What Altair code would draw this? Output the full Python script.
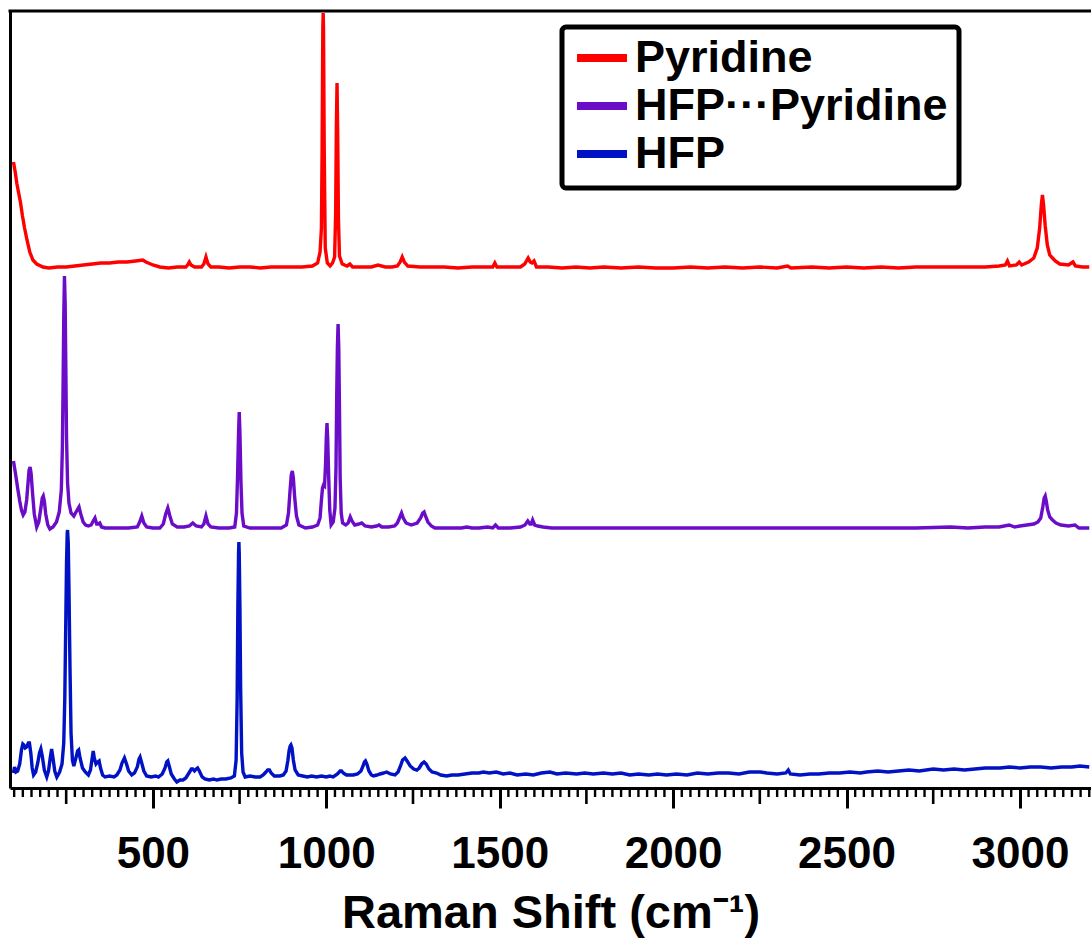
import altair as alt
import pandas as pd

# ---- data ----
SERIES = ["Pyridine", "HFP···Pyridine", "HFP"]
COLORS = ["#ff0000", "#6a0cc8", "#0012c4"]

X_PYR = [98, 103, 108, 113, 118, 124, 130, 137, 145, 154, 165, 183, 200, 225, 250, 275, 300, 325, 350, 375,
         400, 425, 450, 471, 480, 500, 520, 545, 570, 595, 600, 605, 610, 620, 640, 647, 653, 659, 667, 690,
         720, 750, 780, 810, 840, 870, 900, 930, 960, 975, 982, 986, 988, 990, 991, 992, 994, 997, 1003, 1011,
         1018, 1024, 1027, 1029, 1031, 1033, 1035, 1038, 1046, 1060, 1068, 1076, 1100, 1130, 1149, 1170, 1190,
         1205, 1213, 1219, 1225, 1235, 1270, 1300, 1340, 1380, 1420, 1460, 1480, 1486, 1492, 1520, 1560, 1572,
         1582, 1588, 1593, 1599, 1606, 1640, 1680, 1720, 1760, 1800, 1850, 1900, 1950, 2000, 2050, 2100, 2150,
         2200, 2250, 2300, 2330, 2340, 2400, 2450, 2500, 2550, 2600, 2650, 2700, 2750, 2800, 2850, 2900, 2940,
         2958, 2964, 2970, 2990, 2998, 3005, 3025, 3040, 3050, 3057, 3062, 3065, 3068, 3073, 3079, 3086, 3094,
         3102, 3115, 3140, 3153, 3160, 3180, 3200]
Y_PYR = [626, 616, 604, 595, 586, 572, 560, 548, 536, 528, 524, 521, 520, 521, 521, 522, 523, 524, 525, 525,
         526, 526, 527, 528, 526, 523, 521, 520, 521, 521, 523, 526, 523, 521, 521, 524, 531, 524, 521, 521,
         520, 521, 521, 520, 521, 521, 521, 521, 522, 525, 536, 560, 640, 760, 775, 760, 640, 540, 525, 522,
         525, 531, 575, 660, 705, 650, 570, 532, 524, 522, 524, 521, 521, 521, 523, 521, 521,
         522, 526, 531, 526, 522, 521, 521, 521, 520, 521, 521, 521, 525, 521, 521, 521, 524,
         530, 526, 525, 527, 521, 521, 520, 521, 520, 521, 520, 521, 520, 520, 521, 520, 521,
         520, 521, 520, 522, 520, 521, 520, 521, 520, 521, 520, 521, 521, 521, 521, 521, 522,
         523, 527, 522, 523, 526, 523, 526, 530, 540, 560, 584, 593, 584, 562, 543, 533, 530,
         527, 524, 523, 526, 522, 521, 521]

X_MIX = [98, 104, 110, 116, 121, 126, 131, 136, 140, 143, 146, 149, 153, 158, 165, 171, 177, 181, 184, 187,
         191, 197, 203, 212, 222, 230, 236, 239, 241, 243, 245, 247, 249, 251, 254, 258, 264, 272, 280, 287,
         292, 299, 306, 314, 322, 328, 333, 338, 343, 347, 352, 362, 380, 400, 430, 455, 462, 468, 474, 482,
         500, 520, 530, 537, 543, 549, 556, 570, 590, 605, 615, 625, 640, 647, 653, 659, 667, 690, 720, 736,
         741, 744, 747, 749, 751, 754, 757, 762, 780, 810, 840, 870, 885, 891, 895, 899, 902, 905, 909, 914,
         921, 940, 960, 975, 982, 986, 989, 992, 995, 998, 1000, 1002, 1004, 1007, 1010, 1014, 1020, 1025,
         1028, 1030, 1032, 1034, 1036, 1038, 1040, 1043, 1047, 1056, 1063, 1069, 1074, 1082, 1094, 1102, 1112,
         1130, 1145, 1152, 1160, 1180, 1197, 1205, 1211, 1217, 1222, 1230, 1245, 1262, 1272, 1278, 1282, 1286,
         1293, 1303, 1313, 1350, 1390, 1405, 1420, 1440, 1465, 1480, 1488, 1496, 1530, 1560, 1573, 1581, 1587,
         1591, 1595, 1601, 1610, 1625, 1650, 1700, 1800, 1900, 2000, 2100, 2200, 2300, 2400, 2500, 2600, 2700,
         2800, 2850, 2900, 2940, 2969, 2985, 3000, 3020, 3040, 3052, 3060, 3066, 3070, 3073, 3076, 3080, 3086,
         3094, 3104, 3118, 3140, 3159, 3170, 3200]
Y_MIX = [327, 314, 300, 287, 278, 273, 276, 288, 305, 318, 321, 314, 295, 274, 261, 266, 280, 290, 292, 287,
         274, 263, 259, 261, 266, 276, 298, 340, 400, 470, 512, 485, 420, 350, 305, 285, 275, 272, 277, 281,
         274, 266, 263, 262, 263, 267, 270, 264, 264, 265, 261, 260, 260, 260, 260, 261, 266, 272, 265, 261,
         260, 260, 264, 274, 280, 272, 264, 261, 261, 262, 265, 262, 261, 264, 272, 264, 261, 260, 260, 261,
         275, 310, 355, 376, 355, 305, 275, 262, 260, 260, 260, 260, 263, 275, 295, 313, 317, 310, 290, 272,
         263, 260, 261, 263, 270, 288, 300, 303, 302, 325, 350, 365, 350, 310, 278, 263, 266, 280,
         320, 390, 440, 464, 440, 380, 310, 275, 265, 263, 265, 271, 267, 263, 264, 265, 262,
         261, 262, 263, 261, 261, 262, 265, 270, 275, 270, 265, 263, 265, 270, 275, 276, 272,
         266, 262, 260, 260, 260, 261, 260, 260, 261, 260, 263, 260, 260, 261, 263, 267, 264,
         264, 268, 263, 262, 261, 260, 260, 260, 260, 260, 260, 260, 260, 260, 260, 260, 260,
         261, 260, 261, 261, 263, 261, 262, 263, 264, 266, 270, 281, 290, 292, 287, 278, 271,
         268, 265, 263, 262, 263, 260, 260]

X_HFP = [98, 101, 105, 110, 116, 121, 125, 128, 132, 136, 141, 144, 148, 152, 156, 162, 168, 173, 177, 181,
         187, 194, 199, 204, 208, 212, 217, 223, 231, 238, 243, 246, 249, 251, 253, 254, 256, 258, 261, 264,
         268, 272, 278, 283, 286, 290, 297, 305, 314, 320, 325, 328, 331, 336, 341, 345, 349, 355, 362, 375,
         388, 396, 405, 411, 418, 424, 430, 439, 447, 455, 460, 463, 467, 474, 482, 495, 508, 516, 527, 535,
         540, 543, 547, 553, 562, 569, 578, 587, 595, 604, 611, 615, 620, 625, 629, 634, 642, 650, 662, 675,
         684, 697, 710, 725, 735, 740, 743, 745, 747, 748, 749, 751, 753, 756, 760, 766, 780, 795, 809, 818,
         826, 831, 836, 841, 850, 866, 876, 884, 889, 893, 896, 898, 901, 905, 910, 919, 932, 945, 958, 972,
         986, 1000, 1010, 1020, 1032, 1040, 1044, 1049, 1058, 1070, 1078, 1090, 1100, 1106, 1110, 1113, 1117,
         1123, 1130, 1136, 1146, 1155, 1165, 1174, 1185, 1198, 1207, 1214, 1220, 1227, 1233, 1242, 1252, 1261,
         1268, 1275, 1282, 1288, 1296, 1305, 1318, 1330, 1347, 1362, 1380, 1400, 1420, 1440, 1453, 1470, 1490,
         1510, 1530, 1550, 1575, 1597, 1620, 1645, 1665, 1690, 1722, 1745, 1770, 1799, 1825, 1850, 1875, 1900,
         1930, 1955, 1981, 2010, 2040, 2070, 2100, 2130, 2160, 2190, 2220, 2251, 2270, 2300, 2325, 2332, 2338,
         2366, 2395, 2420, 2450, 2480, 2510, 2540, 2558, 2590, 2620, 2650, 2680, 2710, 2750, 2780, 2810, 2840,
         2870, 2900, 2943, 2970, 3000, 3030, 3060, 3090, 3120, 3150, 3173, 3200]
Y_HFP = [15, 21, 16, 17, 24, 38, 44, 43, 40, 41, 45, 45, 35, 20, 13, 16, 25, 35, 39, 32,
         18, 11, 17, 30, 39, 30, 17, 11, 16, 24, 45, 90, 170, 225, 255, 258, 245, 200, 120, 55,
         28, 22, 30, 37, 38, 30, 20, 16, 13, 18, 30, 37, 30, 24, 26, 27, 20, 13, 11, 12,
         11, 13, 18, 25, 30, 24, 17, 13, 15, 21, 29, 31, 26, 17, 12, 11, 12, 11, 14, 20,
         26, 27, 22, 14, 9, 6, 8, 8, 10, 15, 19, 19, 17, 19, 20, 17, 11, 9, 8, 9,
         8, 9, 9, 10, 12, 28, 90, 180, 235, 246, 235, 180, 100, 35, 16, 11, 12, 11, 11, 13,
         16, 18, 18, 15, 12, 12, 13, 17, 27, 38, 42, 43, 40, 28, 18, 13, 12, 11, 12, 11,
         12, 11, 12, 11, 14, 17, 17, 15, 13, 13, 13, 14, 17, 22, 26, 27, 24,
         17, 13, 12, 13, 14, 15, 16, 14, 13, 16, 22, 28, 30, 27, 22, 19, 18,
         20, 24, 26, 24, 19, 16, 15, 13, 12, 13, 13, 14, 15, 15, 16, 15, 16,
         14, 15, 13, 14, 13, 15, 16, 14, 15, 14, 15, 14, 15, 14, 15, 13, 14,
         13, 14, 13, 14, 13, 15, 14, 15, 15, 14, 16, 16, 15, 14, 15, 18, 14,
         13, 14, 14, 15, 15, 16, 15, 16, 17, 16, 17, 18, 17, 19, 18, 19, 18,
         19, 20, 20, 21, 20, 21, 21, 20, 21, 21, 22, 21]

MAJOR_TICKS = [500, 1000, 1500, 2000, 2500, 3000]
MEDIUM_TICKS = [250, 750, 1250, 1750, 2250, 2750]
MINOR_TICKS = [v for v in range(100, 3201, 25) if v % 250 != 0]

X_DOMAIN = [88, 3205]
Y_DOMAIN = [0, 777]
W, H = 1081, 777

rows = []
for name, xs, ys in zip(SERIES, [X_PYR, X_MIX, X_HFP], [Y_PYR, Y_MIX, Y_HFP]):
    for a, b in zip(xs, ys):
        rows.append({"series": name, "x": a, "y": b})
df = pd.DataFrame(rows)

xscale = alt.Scale(domain=X_DOMAIN, nice=False, zero=False)
yscale = alt.Scale(domain=Y_DOMAIN, nice=False, zero=False)

XAXIS = alt.Axis(values=MAJOR_TICKS, format="d", title="Raman Shift (cm⁻¹)", grid=False, orient="bottom",
                 ticks=True, labels=True, domain=True,
                 domainColor="black", domainWidth=3, tickColor="black", tickWidth=3,
                 tickSize=20, labelFontSize=44, labelFontWeight="bold", labelColor="black",
                 labelFont="Liberation Sans", labelPadding=24,
                 titleFontSize=47, titleFontWeight="bold", titleColor="black",
                 titleFont="Liberation Sans", titlePadding=14)

lines = alt.Chart(df).mark_line(strokeWidth=3.4, clip=True).encode(
    x=alt.X("x:Q", scale=xscale, axis=XAXIS),
    y=alt.Y("y:Q", scale=yscale,
            axis=alt.Axis(labels=False, ticks=False, title=None, grid=False,
                          domainColor="black", domainWidth=3)),
    color=alt.Color("series:N", sort=SERIES,
                    scale=alt.Scale(domain=SERIES, range=COLORS),
                    legend=alt.Legend(title=None, orient="none", legendX=552, legendY=16,
                                      symbolType="stroke", symbolSize=2500, symbolStrokeWidth=8,
                                      labelFontSize=45, labelFontWeight="bold", labelColor="black",
                                      labelFont="Liberation Sans", labelOffset=4, labelLimit=900,
                                      padding=11, rowPadding=3, clipHeight=40, fillColor="white",
                                      strokeColor="black", cornerRadius=4)),
)

minor = alt.Chart(pd.DataFrame({"x": MINOR_TICKS})).mark_rule(color="black", strokeWidth=2.4).encode(
    x=alt.X("x:Q", scale=xscale, axis=XAXIS), y=alt.value(H), y2=alt.value(H + 9))
medium = alt.Chart(pd.DataFrame({"x": MEDIUM_TICKS})).mark_rule(color="black", strokeWidth=2.6).encode(
    x=alt.X("x:Q", scale=xscale, axis=XAXIS), y=alt.value(H), y2=alt.value(H + 16))
top = alt.Chart(pd.DataFrame({"x": [0]})).mark_rule(color="black", strokeWidth=3).encode(
    x=alt.value(-1.5), x2=alt.value(W), y=alt.value(0))

chart = alt.layer(lines, minor, medium, top).properties(
    width=W, height=H,
    autosize=alt.AutoSizeParams(type="none"),
    padding={"left": 10, "top": 11, "right": 0, "bottom": 152},
    background="white",
).configure(font="Liberation Sans").configure_view(strokeWidth=0).configure_legend(strokeWidth=5)

chart.save("out.html", embed_options={"renderer": "svg", "actions": False})
